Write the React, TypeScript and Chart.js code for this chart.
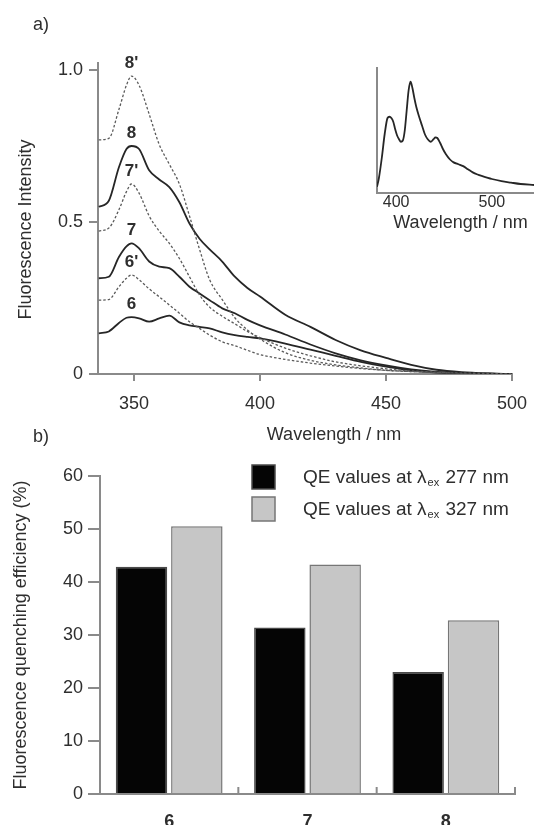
import React, { useEffect, useRef } from "react";
import { Chart, registerables } from "chart.js";

Chart.register(...registerables);

const FONT = '"Liberation Sans", Arial, Helvetica, sans-serif';
const TEXT = "#2e2e2e";
const AXIS = "#8a8a8a";

// ---------- panel a) emission spectra ----------
const wavelengths = [336, 340, 344, 347, 349, 352, 356, 360, 364, 368, 372, 376, 380, 385, 390, 395, 400, 410, 420, 430, 440, 450, 460, 470, 480, 490, 500];
const curve8p = [0.77, 0.775, 0.87, 0.95, 0.98, 0.95, 0.855, 0.755, 0.69, 0.625, 0.52, 0.41, 0.31, 0.245, 0.185, 0.145, 0.115, 0.07, 0.045, 0.03, 0.02, 0.012, 0.008, 0.005, 0.003, 0.002, 0.0];
const curve8 = [0.55, 0.57, 0.68, 0.74, 0.75, 0.74, 0.67, 0.64, 0.615, 0.565, 0.495, 0.445, 0.41, 0.37, 0.32, 0.283, 0.255, 0.195, 0.155, 0.112, 0.078, 0.053, 0.03, 0.014, 0.006, 0.002, 0.0];
const curve7p = [0.47, 0.48, 0.54, 0.6, 0.625, 0.595, 0.52, 0.47, 0.43, 0.38, 0.32, 0.26, 0.22, 0.19, 0.165, 0.14, 0.12, 0.085, 0.06, 0.04, 0.027, 0.017, 0.01, 0.006, 0.003, 0.002, 0.0];
const curve7 = [0.315, 0.32, 0.385, 0.42, 0.43, 0.413, 0.37, 0.353, 0.348, 0.32, 0.287, 0.265, 0.243, 0.216, 0.2, 0.178, 0.16, 0.13, 0.097, 0.068, 0.045, 0.028, 0.015, 0.007, 0.003, 0.001, 0.0];
const curve6p = [0.243, 0.245, 0.287, 0.315, 0.326, 0.31, 0.28, 0.254, 0.227, 0.2, 0.172, 0.15, 0.128, 0.106, 0.093, 0.078, 0.064, 0.048, 0.036, 0.026, 0.018, 0.012, 0.008, 0.005, 0.003, 0.001, 0.0];
const curve6 = [0.134, 0.14, 0.168, 0.185, 0.187, 0.183, 0.172, 0.183, 0.192, 0.17, 0.16, 0.155, 0.15, 0.137, 0.128, 0.122, 0.117, 0.1, 0.08, 0.06, 0.04, 0.024, 0.012, 0.005, 0.002, 0.001, 0.0];
const curveNames = ["8'", "8", "7'", "7", "6'", "6"];
const curveDashed = [true, false, true, false, true, false];
const labelWavelength = 349; // curve names sit above the 349 nm emission maximum
const xTicksA = [350, 400, 450, 500];
const yTicksA = [0, 0.5, 1.0];

// ---------- inset ----------
const insetWavelengths = [380, 382, 385, 388, 391, 393, 395, 397, 399, 401, 403, 405, 407, 409, 411, 413, 415, 417, 419, 421, 424, 427, 430, 433, 436, 439, 441, 443, 446, 449, 452, 456, 460, 465, 470, 475, 480, 485, 490, 500, 510, 520, 530, 544];
const insetIntensity = [0.05, 0.12, 0.28, 0.47, 0.6, 0.61, 0.6, 0.57, 0.51, 0.46, 0.43, 0.41, 0.42, 0.5, 0.66, 0.82, 0.89, 0.84, 0.76, 0.69, 0.61, 0.54, 0.47, 0.43, 0.41, 0.43, 0.445, 0.44, 0.4, 0.35, 0.31, 0.27, 0.245, 0.23, 0.215, 0.19, 0.165, 0.148, 0.135, 0.112, 0.095, 0.083, 0.072, 0.064];
const insetTicks = [400, 500];

// ---------- panel b) quenching efficiency ----------
const compounds = ["6", "7", "8"];
const excitationNm = [277, 327];
const qe277 = [42.9, 31.4, 23.0];
const qe327 = [50.5, 43.3, 32.8];

function zeroPad(s: any) {
  s.paddingLeft = 0;
  s.paddingRight = 0;
  s.paddingTop = 0;
  s.paddingBottom = 0;
}

function makeSpectra(canvas: HTMLCanvasElement) {
  const curves = [curve8p, curve8, curve7p, curve7, curve6p, curve6];
  const labelPlugin = {
    id: "spectraText",
    afterDatasetsDraw(chart: any) {
      const ctx = chart.ctx;
      const ca = chart.chartArea;
      ctx.save();
      ctx.fillStyle = TEXT;
      ctx.textAlign = "center";
      ctx.textBaseline = "middle";
      ctx.font = `bold 17px ${FONT}`;
      const idx = wavelengths.indexOf(labelWavelength);
      curves.forEach((_vals, i) => {
        const pt = chart.getDatasetMeta(i).data[idx];
        ctx.fillText(curveNames[i], pt.x, pt.y - 13);
      });
      ctx.font = `18px ${FONT}`;
      ctx.fillText("a)", 41, 25);
      ctx.fillText("Wavelength / nm", (ca.left + ca.right) / 2 + 29, ca.bottom + 61);
      ctx.translate(ca.left - 72, (ca.top + ca.bottom) / 2 + 11);
      ctx.rotate(-Math.PI / 2);
      ctx.fillText("Fluorescence Intensity", 0, 0);
      ctx.restore();
    },
  };
  return new Chart(canvas, {
    type: "line",
    data: {
      datasets: curves.map((vals, i) => ({
        label: curveNames[i],
        data: wavelengths.map((w, j) => ({ x: w, y: vals[j] })),
        borderColor: curveDashed[i] ? "#5a5a5a" : "#262626",
        borderWidth: curveDashed[i] ? 1.3 : 1.8,
        borderDash: curveDashed[i] ? [2.5, 2] : [],
        pointRadius: 0,
        fill: false,
        cubicInterpolationMode: "monotone" as const,
      })),
    },
    options: {
      responsive: false,
      animation: false,
      devicePixelRatio: 1,
      layout: { padding: { left: 0, right: 22, top: 63, bottom: 0 } },
      plugins: { legend: { display: false }, tooltip: { enabled: false } },
      scales: {
        x: {
          type: "linear",
          min: 335.7,
          max: 500,
          afterBuildTicks: (s: any) => { s.ticks = xTicksA.map((v) => ({ value: v })); },
          afterFit: (s: any) => { s.height = 71; zeroPad(s); },
          grid: { drawOnChartArea: false, drawTicks: true, tickLength: 7, color: AXIS, lineWidth: 2 },
          border: { display: true, color: AXIS, width: 2 },
          ticks: { padding: 12, color: TEXT, font: { size: 18, family: FONT }, maxRotation: 0, autoSkip: false },
        },
        y: {
          min: 0,
          max: 1.023,
          afterBuildTicks: (s: any) => { s.ticks = yTicksA.map((v) => ({ value: v })); },
          afterFit: (s: any) => { s.width = 98; zeroPad(s); },
          grid: { drawOnChartArea: false, drawTicks: true, tickLength: 9, color: AXIS, lineWidth: 2 },
          border: { display: true, color: AXIS, width: 2 },
          ticks: {
            padding: 6,
            color: TEXT,
            font: { size: 18, family: FONT },
            callback: (v: any) => (v === 0 ? "0" : Number(v).toFixed(1)),
          },
        },
      },
    },
    plugins: [labelPlugin],
  });
}

function makeInset(canvas: HTMLCanvasElement) {
  const titlePlugin = {
    id: "insetText",
    afterDraw(chart: any) {
      const ctx = chart.ctx;
      const ca = chart.chartArea;
      ctx.save();
      ctx.fillStyle = TEXT;
      ctx.textAlign = "center";
      ctx.textBaseline = "middle";
      ctx.font = `18px ${FONT}`;
      ctx.fillText("Wavelength / nm", (ca.left + ca.right) / 2 + 5, ca.bottom + 30);
      ctx.restore();
    },
  };
  return new Chart(canvas, {
    type: "line",
    data: {
      datasets: [
        {
          label: "inset",
          data: insetWavelengths.map((w, j) => ({ x: w, y: insetIntensity[j] })),
          borderColor: "#262626",
          borderWidth: 1.8,
          pointRadius: 0,
          fill: false,
          cubicInterpolationMode: "monotone" as const,
        },
      ],
    },
    options: {
      responsive: false,
      animation: false,
      devicePixelRatio: 1,
      layout: { padding: { left: 0, right: 0, top: 13, bottom: 0 } },
      plugins: { legend: { display: false }, tooltip: { enabled: false } },
      scales: {
        x: {
          type: "linear",
          min: 380,
          max: 544,
          afterBuildTicks: (s: any) => { s.ticks = insetTicks.map((v) => ({ value: v })); },
          afterFit: (s: any) => { s.height = 42; zeroPad(s); },
          grid: { drawOnChartArea: false, drawTicks: false },
          border: { display: true, color: AXIS, width: 2 },
          ticks: { padding: 0, color: TEXT, font: { size: 16, family: FONT }, maxRotation: 0, autoSkip: false },
        },
        y: {
          min: 0,
          max: 1,
          afterFit: (s: any) => { s.width = 22; zeroPad(s); },
          grid: { drawOnChartArea: false, drawTicks: false },
          border: { display: true, color: AXIS, width: 2 },
          ticks: { display: false },
        },
      },
    },
    plugins: [titlePlugin],
  });
}

function makeBars(canvas: HTMLCanvasElement) {
  const colors = ["#050505", "#c6c6c6"];
  const borders = ["#4a4a4a", "#767676"];
  const extraPlugin = {
    id: "barText",
    afterDraw(chart: any) {
      const ctx = chart.ctx;
      const ca = chart.chartArea;
      const xs = chart.scales.x;
      ctx.save();
      // inward ticks at category boundaries
      ctx.strokeStyle = AXIS;
      ctx.lineWidth = 2;
      for (let i = 1; i <= compounds.length; i++) {
        const px = i < compounds.length
          ? (xs.getPixelForValue(i - 1) + xs.getPixelForValue(i)) / 2
          : ca.right;
        ctx.beginPath();
        ctx.moveTo(px, ca.bottom);
        ctx.lineTo(px, ca.bottom - 7);
        ctx.stroke();
      }
      ctx.fillStyle = TEXT;
      ctx.textBaseline = "middle";
      ctx.textAlign = "center";
      ctx.font = `18px ${FONT}`;
      ctx.fillText("b)", 41, 17);
      // y title
      ctx.save();
      ctx.translate(ca.left - 79, (ca.top + ca.bottom) / 2);
      ctx.rotate(-Math.PI / 2);
      ctx.fillText("Fluorescence quenching efficiency (%)", 0, 0);
      ctx.restore();
      // legend
      excitationNm.forEach((nm, i) => {
        const top = 45 + i * 32;
        ctx.fillStyle = colors[i];
        ctx.fillRect(252, top, 23, 24);
        ctx.strokeStyle = borders[i];
        ctx.lineWidth = 1.5;
        ctx.strokeRect(252, top, 23, 24);
        const cy = top + 13;
        ctx.fillStyle = TEXT;
        ctx.textAlign = "left";
        ctx.font = `19px ${FONT}`;
        let x = 303;
        const a = "QE values at λ";
        ctx.fillText(a, x, cy);
        x += ctx.measureText(a).width + 1;
        ctx.font = `11px ${FONT}`;
        ctx.fillText("ex", x, cy + 5);
        x += ctx.measureText("ex").width + 1;
        ctx.font = `19px ${FONT}`;
        ctx.fillText(` ${nm} nm`, x, cy);
      });
      ctx.restore();
    },
  };
  return new Chart(canvas, {
    type: "bar",
    data: {
      labels: compounds,
      datasets: [qe277, qe327].map((vals, i) => ({
        label: `QE values at λex ${excitationNm[i]} nm`,
        data: vals,
        backgroundColor: colors[i],
        borderColor: borders[i],
        borderWidth: 1.5,
        categoryPercentage: 0.8,
        barPercentage: 0.93,
      })),
    },
    options: {
      responsive: false,
      animation: false,
      devicePixelRatio: 1,
      layout: { padding: { left: 0, right: 19, top: 56, bottom: 0 } },
      plugins: { legend: { display: false }, tooltip: { enabled: false } },
      scales: {
        x: {
          afterFit: (s: any) => { s.height = 31; zeroPad(s); },
          grid: { display: false, drawTicks: false },
          border: { display: true, color: AXIS, width: 2 },
          ticks: { padding: 17, color: TEXT, font: { size: 18, family: FONT, weight: "bold" } },
        },
        y: {
          min: 0,
          max: 60,
          afterFit: (s: any) => { s.width = 100; zeroPad(s); },
          grid: { drawOnChartArea: false, drawTicks: true, tickLength: 12, color: AXIS, lineWidth: 2 },
          border: { display: true, color: AXIS, width: 2 },
          ticks: { stepSize: 10, padding: 5, color: TEXT, font: { size: 18, family: FONT } },
        },
      },
    },
    plugins: [extraPlugin],
  });
}

export default function App() {
  const refA = useRef<HTMLCanvasElement>(null);
  const refB = useRef<HTMLCanvasElement>(null);
  const refC = useRef<HTMLCanvasElement>(null);

  useEffect(() => {
    const charts = [
      makeSpectra(refA.current as HTMLCanvasElement),
      makeBars(refB.current as HTMLCanvasElement),
      makeInset(refC.current as HTMLCanvasElement),
    ];
    return () => charts.forEach((c) => c.destroy());
  }, []);

  return (
    <div style={{ position: "absolute", left: 0, top: 0, width: 534, height: 825, background: "#ffffff", overflow: "hidden" }}>
      <canvas ref={refA} width={534} height={445} style={{ position: "absolute", left: 0, top: 0, width: 534, height: 445 }} />
      <canvas ref={refB} width={534} height={405} style={{ position: "absolute", left: 0, top: 420, width: 534, height: 405 }} />
      <canvas ref={refC} width={179} height={180} style={{ position: "absolute", left: 355, top: 55, width: 179, height: 180 }} />
    </div>
  );
}
